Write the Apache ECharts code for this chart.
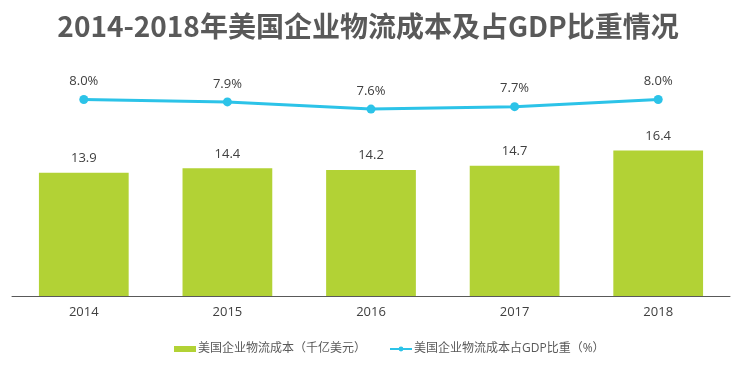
<!DOCTYPE html>
<html><head><meta charset="utf-8">
<script src="https://cdn.jsdelivr.net/npm/echarts@6/dist/echarts.min.js"></script>
<style>html,body{margin:0;padding:0;background:#fff}#c{width:736px;height:381px}</style>
</head><body><div id="c"></div>
<script>
const categories = ['2014','2015','2016','2017','2018'];
const costValues = [13.9, 14.4, 14.2, 14.7, 16.4];
const ratioValues = [8.0, 7.9, 7.6, 7.7, 8.0];
const barName = '美国企业物流成本（千亿美元）';
const lineName = '美国企业物流成本占GDP比重（%）';
const titleText = '2014-2018年美国企业物流成本及占GDP比重情况';

const font = '"Open Sans","Noto Sans CJK SC",sans-serif';
const chart = echarts.init(document.getElementById('c'));
chart.setOption({
  animation: false,
  title: {
    text: titleText, left: 'center', top: 7,
    textStyle: {fontFamily: '"Noto Sans CJK SC",sans-serif', fontWeight: 'bold', fontSize: 28, color: '#595959'}
  },
  legend: {
    left: 169, top: 338, itemGap: 23,
    textStyle: {fontFamily: font, fontSize: 12, color: '#595959', padding: [0,0,0,-3]},
    data: [
      {name: barName, icon: 'rect', itemStyle: {color: '#b2d235'}},
      {name: lineName}
    ],
    itemWidth: 22, itemHeight: 6
  },
  grid: {left: 12, right: 6, top: 30, bottom: 85},
  xAxis: {
    type: 'category', data: categories,
    axisLine: {lineStyle: {color: '#595959', width: 1}},
    axisTick: {show: false},
    axisLabel: {fontFamily: font, fontSize: 13, color: '#404040', margin: 10}
  },
  yAxis: [
    {type: 'value', min: 0, max: 30, show: false, splitLine: {show: false}},
    {type: 'value', min: -0.2, max: 10.9, show: false, splitLine: {show: false}}
  ],
  series: [
    {
      name: barName, type: 'bar', data: costValues, barWidth: '62.5%',
      itemStyle: {color: '#b2d235'},
      label: {show: true, position: 'top', distance: 8, fontFamily: font, fontSize: 13, color: '#404040'}
    },
    {
      name: lineName, type: 'line', yAxisIndex: 1, data: ratioValues,
      symbol: 'circle', symbolSize: 9,
      lineStyle: {color: '#2cc3e8', width: 3},
      itemStyle: {color: '#2cc3e8'},
      label: {show: true, position: 'top', distance: 7, fontFamily: font, fontSize: 13, color: '#404040',
        formatter: p => p.value.toFixed(1) + '%'}
    }
  ]
});
</script></body></html>
